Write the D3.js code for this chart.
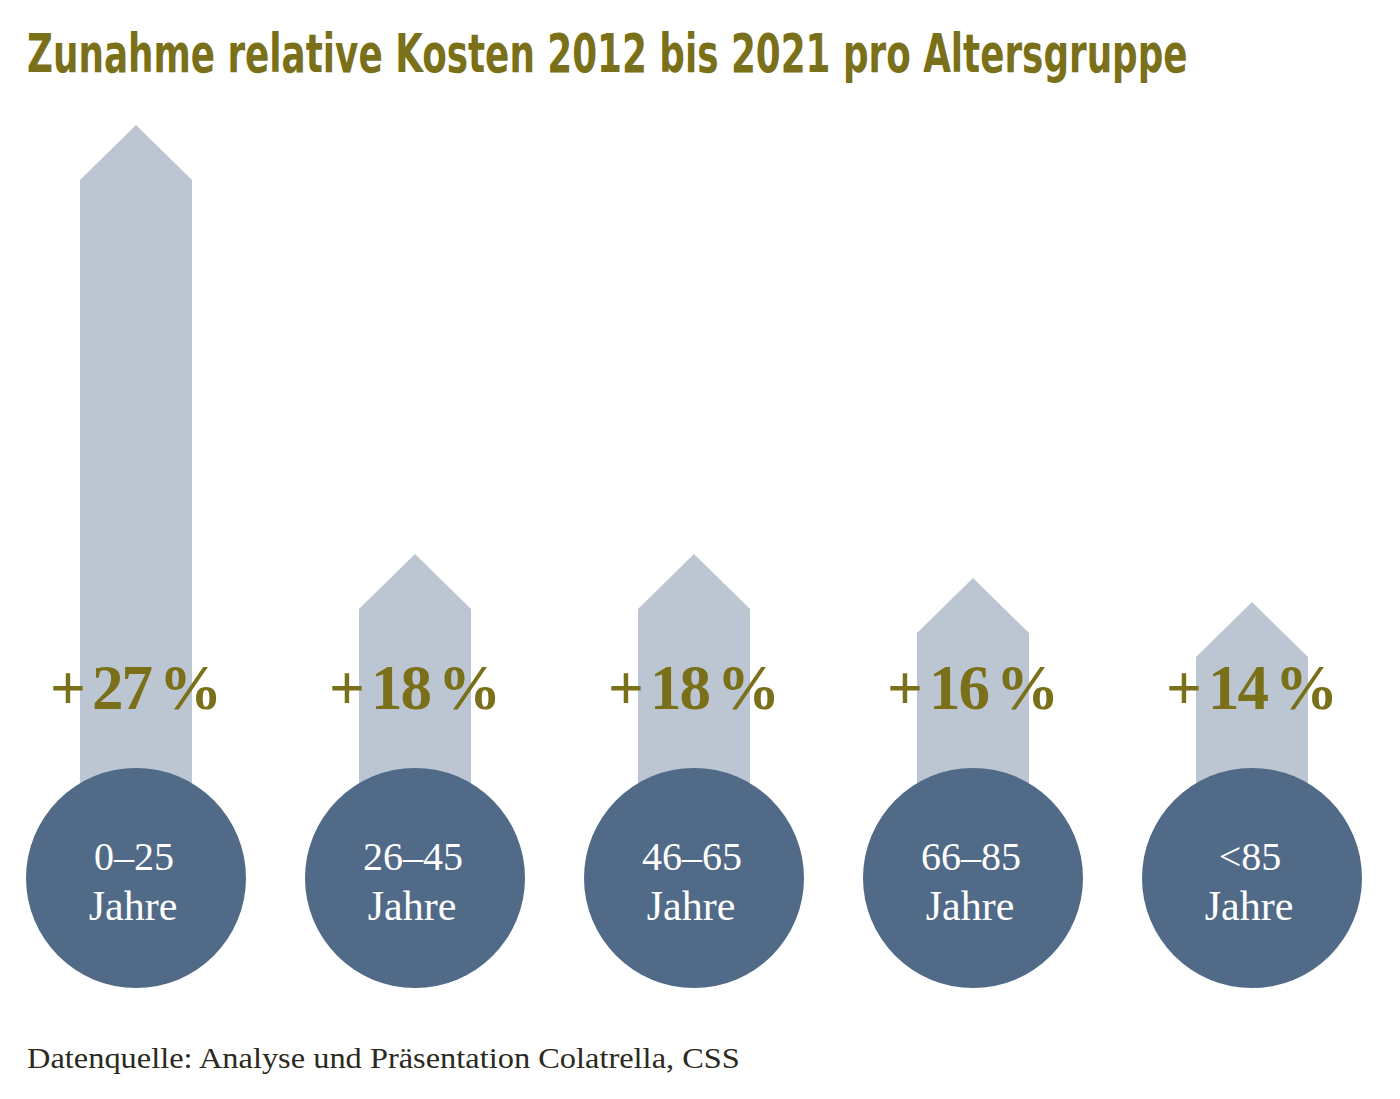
<!DOCTYPE html>
<html>
<head>
<meta charset="utf-8">
<script src="https://cdn.jsdelivr.net/npm/d3@7"></script>
<style>
  body { margin: 0; background: #fff; }
</style>
</head>
<body>
<div class="container"></div>
<script>
const w = 1400, h = 1099;

const groups = ["0–25", "26–45", "46–65", "66–85", "<85"];
const increase = [27, 18, 18, 16, 14];
const title = "Zunahme relative Kosten 2012 bis 2021 pro Altersgruppe";
const source = "Datenquelle: Analyse und Präsentation Colatrella, CSS";

const olive = "#7a7019";
const lightBlue = "#bcc6d3";
const darkBlue = "#506a87";

const svg = d3.select(".container")
  .append("svg")
  .attr("width", w)
  .attr("height", h)
  .attr("viewBox", [0, 0, w, h]);

const xScale = d3.scalePoint()
  .domain(groups)
  .range([136, 1252]);

// the 27 % arrow is drawn stretched in the original, so the scale bends at 18
const yScale = d3.scaleLinear()
  .domain([0, 18, 27])
  .range([770, 554, 125]);

const cy = 878, r = 110, half = 56, head = 55;

// squeeze a text horizontally to a given width
function fitWidth(sel, x, y, width) {
  const len = sel.node().getComputedTextLength();
  sel.attr("transform", `translate(${x},${y}) scale(${width / len},1)`);
}

const titleText = svg.append("text")
  .attr("fill", olive)
  .attr("font-family", "'Liberation Sans Narrow', 'DejaVu Sans Condensed', sans-serif")
  .attr("font-weight", "bold")
  .attr("font-size", 54)
  .text(title);
fitWidth(titleText, 27, 72, 1161);

const data = groups.map((g, i) => ({ group: g, value: increase[i] }));

// arrows
svg.selectAll("path.arrow")
  .data(data)
  .join("path")
  .attr("class", "arrow")
  .attr("fill", lightBlue)
  .attr("d", d => {
    const x = xScale(d.group), tip = yScale(d.value);
    return `M${x - half},${cy} V${tip + head} L${x},${tip} L${x + half},${tip + head} V${cy} Z`;
  });

svg.selectAll("circle")
  .data(data)
  .join("circle")
  .attr("cx", d => xScale(d.group))
  .attr("cy", cy)
  .attr("r", r)
  .attr("fill", darkBlue);

const pct = svg.selectAll("text.pct")
  .data(data)
  .join("text")
  .attr("class", "pct")
  .attr("x", d => xScale(d.group))
  .attr("y", 709)
  .attr("text-anchor", "middle")
  .attr("fill", olive)
  .attr("font-family", "'Liberation Serif', 'DejaVu Serif', serif")
  .attr("font-weight", "bold")
  .attr("font-size", 63);

pct.append("tspan").text("+");
pct.append("tspan").attr("dx", 6).attr("letter-spacing", -2).text(d => d.value);
pct.append("tspan").attr("dx", 8).text("%");

const lab = svg.selectAll("text.lab")
  .data(data)
  .join("text")
  .attr("class", "lab")
  .attr("text-anchor", "middle")
  .attr("fill", "#fff")
  .attr("font-family", "'Liberation Serif', 'DejaVu Serif', serif")
  .attr("font-size", 40);

lab.append("tspan")
  .attr("x", d => xScale(d.group) - 2)
  .attr("y", 870)
  .text(d => d.group);

lab.append("tspan")
  .attr("x", d => xScale(d.group) - 3)
  .attr("y", 920)
  .attr("font-size", 42)
  .text("Jahre");

const sourceText = svg.append("text")
  .attr("fill", "#2b2a20")
  .attr("font-family", "'Liberation Serif', 'DejaVu Serif', serif")
  .attr("font-size", 29)
  .text(source);
fitWidth(sourceText, 27, 1068, 713);
</script>
</body>
</html>
